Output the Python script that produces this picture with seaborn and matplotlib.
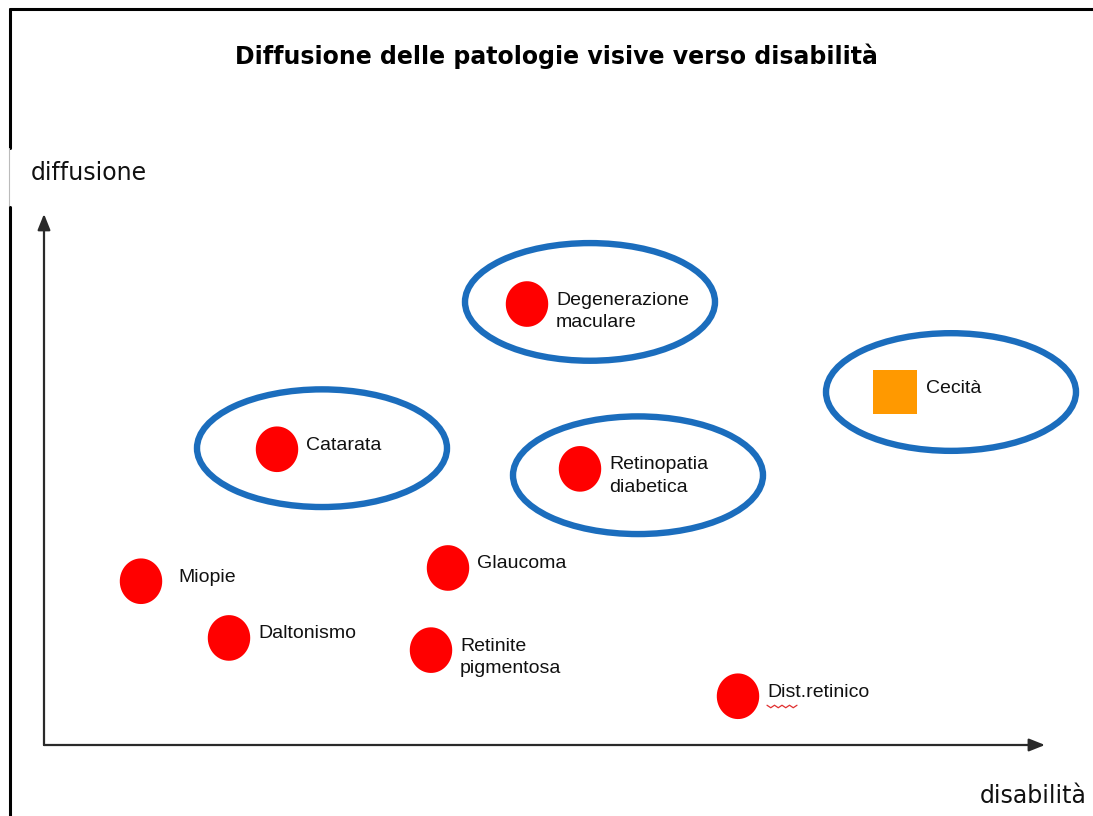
import numpy as np
import seaborn as sns
import matplotlib.pyplot as plt
from matplotlib.patches import Ellipse
from matplotlib.lines import Line2D
from matplotlib.path import Path

# data (arbitrary units 0-10 on both axes)
patologie = ["Miopie", "Daltonismo", "Catarata", "Degenerazione\nmaculare",
             "Retinopatia\ndiabetica", "Glaucoma", "Retinite\npigmentosa",
             "Dist.retinico"]
disabilita = [0.97, 1.85, 2.33, 4.83, 5.36, 4.04, 3.87, 6.94]
diffusione = [3.09, 2.02, 5.58, 8.32, 5.21, 3.34, 1.79, 0.92]

cecita_x = [8.51]
cecita_y = [6.66]

# highlighted groups (centre x, centre y)
gruppi_x = [2.78, 5.46, 5.94, 9.07]
gruppi_y = [5.60, 8.36, 5.09, 6.66]

W, H = 1093, 816
sns.set_theme(style="white")
plt.rcParams['font.family'] = ['DejaVu Sans']

fig = plt.figure(figsize=(W / 100, H / 100), dpi=100)
fig.patch.set_facecolor("white")

# table-like frame of the original screenshot
fig.add_artist(Line2D([10 / W, 1], [1 - 9 / H, 1 - 9 / H], color="black", lw=2.2))
fig.add_artist(Line2D([10 / W, 10 / W], [1 - 9 / H, 1 - 148 / H], color="black", lw=2.2))
fig.add_artist(Line2D([9 / W, 9 / W], [1 - 148 / H, 1 - 207 / H], color="#bbbbbb", lw=0.8))
fig.add_artist(Line2D([10 / W, 10 / W], [1 - 207 / H, 0], color="black", lw=2.2))

fig.text(556 / W, 1 - 56 / H, "Diffusione delle patologie visive verso disabilità",
         ha="center", va="center", fontsize=17, fontweight="bold", color="black")
fig.text(31 / W, 1 - 173 / H, "diffusione", ha="left", va="center", fontsize=17,
         color="#111111")
fig.text(1087 / W, 1 - 796 / H, "disabilità", ha="right", va="center", fontsize=17,
         color="#111111")

ax = fig.add_axes([44 / W, 71 / H, 1000 / W, 530 / H])
ax.set_xlim(0, 10)
ax.set_ylim(0, 10)
ax.axis("off")

# axes with arrow heads
arrow = dict(arrowstyle="-|>,head_length=0.8,head_width=0.32", color="#2a2a2a",
             lw=1.6, shrinkA=0, shrinkB=0)
ax.annotate("", xy=(10.01, 0), xytext=(0, 0), arrowprops=arrow, annotation_clip=False)
ax.annotate("", xy=(0, 10.02), xytext=(0, 0), arrowprops=arrow, annotation_clip=False)

# blue ellipses
for cx, cy in zip(gruppi_x, gruppi_y):
    ax.add_patch(Ellipse((cx, cy), 2.50, 2.22, fill=False, edgecolor="#1b6dbd",
                         lw=4.6, clip_on=False, zorder=2))

# slightly tall round marker
t = np.linspace(0, 2 * np.pi, 60)
oval = Path(np.column_stack([0.93 * np.cos(t), np.sin(t)]))

sns.scatterplot(x=disabilita, y=diffusione, ax=ax, marker=oval, s=1080,
                color="#ff0000", edgecolor="none", linewidth=0, legend=False, zorder=3)
sns.scatterplot(x=cecita_x, y=cecita_y, ax=ax, marker="s", s=1000,
                color="#ff9900", edgecolor="none", linewidth=0, legend=False, zorder=3)

for nome, x, y in zip(patologie, disabilita, diffusione):
    dx = 37 if nome == "Miopie" else 29
    ax.annotate(nome, (x, y), xytext=(dx * 0.72, 12.5 * 0.72), textcoords="offset points",
                ha="left", va="top", fontsize=14, family="Liberation Sans",
                color="#111111", linespacing=1.42)
    if nome == "Dist.retinico":
        # spell-check squiggle under "Dist"
        zx = np.linspace(0, 30, 9)
        zy = np.where(np.arange(9) % 2 == 0, 0, 2.5)
        off = ax.transData.transform((x, y))
        pts = ax.transData.inverted().transform(
            np.column_stack([off[0] + dx + zx, off[1] - 9 - zy]))
        ax.plot(pts[:, 0], pts[:, 1], color="#e03030", lw=0.9, clip_on=False)

ax.annotate("Cecità", (cecita_x[0], cecita_y[0]), xytext=(31 * 0.72, 12.5 * 0.72),
            textcoords="offset points", ha="left", va="top", fontsize=14,
            family="Liberation Sans", color="#111111")

fig.savefig("out.png", dpi=100, facecolor="white")
